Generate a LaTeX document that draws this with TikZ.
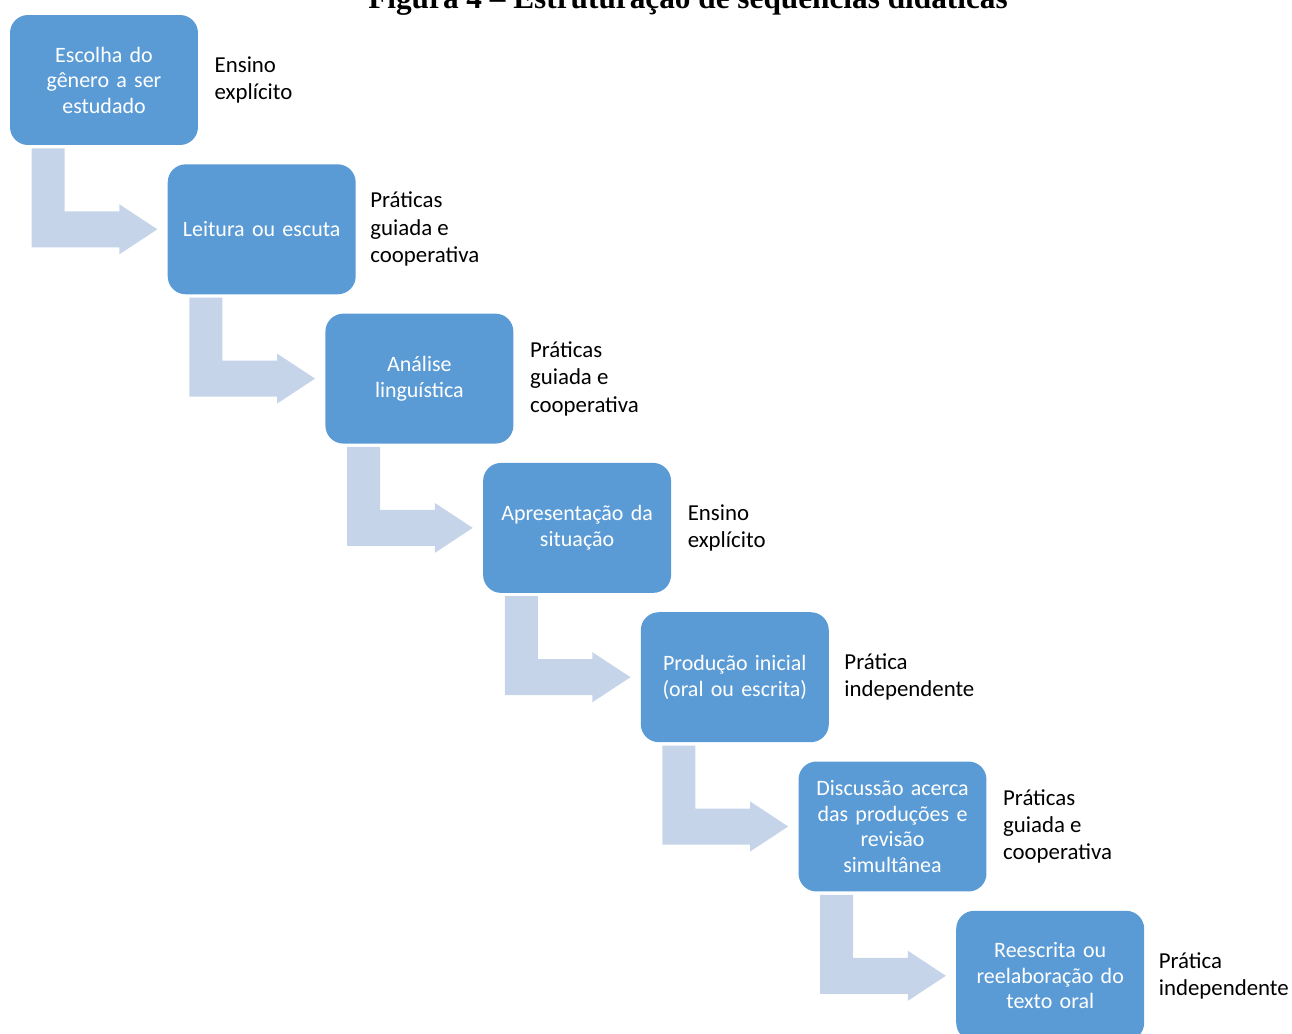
\documentclass[tikz,border=0pt]{standalone}
\usepackage{fontspec}
\setmainfont{Carlito}
\newfontfamily\titlefont{Liberation Serif}
\usetikzlibrary{positioning,calc}
\definecolor{boxblue}{RGB}{91,155,213}
\definecolor{flowblue}{RGB}{198,212,234}
\begin{document}
\begin{tikzpicture}[x=0.02cm,y=-0.02cm,
  stepbox/.style={fill=boxblue,rounded corners=0.36cm,minimum width=3.76cm,minimum height=2.6cm,
    text width=3.5cm,align=center,text=white,inner sep=0,font=\fontsize{12.5}{14.5}\selectfont},
  note/.style={align=left,inner sep=0,anchor=west,font=\fontsize{13}{15.6}\selectfont},
  flow/.style={fill=flowblue}]
\useasboundingbox (0,0) rectangle (1292,1034);
\node[anchor=base,font=\titlefont\bfseries\fontsize{17.8}{20}\selectfont] (title) at (688,9) {Figura 4 – Estruturação de sequências didáticas};
% etapas
\node[stepbox] (b1) at (104,80) {Escolha do\\gênero a ser\\estudado};
\node[stepbox] (b2) at (261.7,229.3) {Leitura ou escuta};
\node[stepbox] (b3) at (419.4,378.6) {Análise\\linguística};
\node[stepbox] (b4) at (577.1,527.9) {Apresentação da\\situação};
\node[stepbox] (b5) at (734.8,677.2) {Produção inicial\\(oral ou escrita)};
\node[stepbox] (b6) at (892.5,826.5) {Discussão acerca\\das produções e\\revisão\\simultânea};
\node[stepbox] (b7) at (1050.2,975.8) {Reescrita ou\\reelaboração do\\texto oral};
% tipos de prática
\node[note,right=0.32cm of b1] (n1) {Ensino\\explícito};
\node[note,right=0.28cm of b2] (n2) {Práticas\\guiada e\\cooperativa};
\node[note,right=0.32cm of b3] (n3) {Práticas\\guiada e\\cooperativa};
\node[note,right=0.32cm of b4] (n4) {Ensino\\explícito};
\node[note,right=0.3cm of b5] (n5) {Prática\\independente};
\node[note,right=0.32cm of b6] (n6) {Práticas\\guiada e\\cooperativa};
\node[note,right=0.28cm of b7] (n7) {Prática\\independente};
% setas
\foreach \a/\b in {b1/b2,b2/b3,b3/b4,b4/b5,b5/b6,b6/b7} {
  \fill[flow] ($(\a.south west)+(22,3)$) coordinate (p) -- ++(33,0)
    |- ($(\b.west)+(-48,-18)$) -- ++(0,-7) -- ($(\b.west)+(-10,0)$)
    -- ($(\b.west)+(-48,25)$) -- ++(0,-7) -| (p) -- cycle;
}
\end{tikzpicture}
\end{document}
